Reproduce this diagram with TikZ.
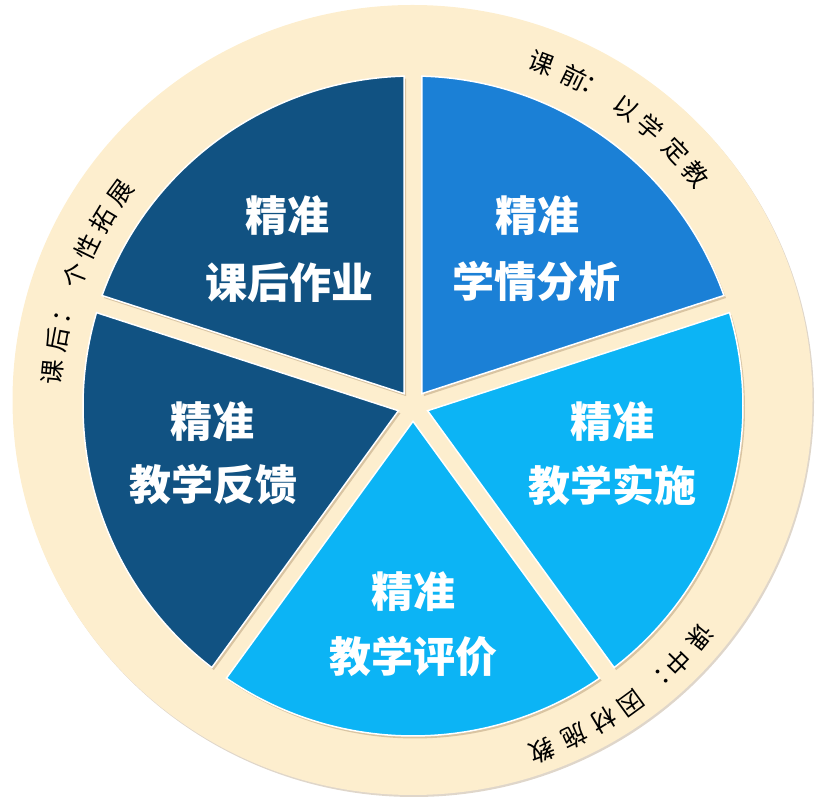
\documentclass[tikz,border=0pt]{standalone}
\usepackage{fontspec}
\newfontfamily\cjk{Noto Sans CJK SC}
\usetikzlibrary{shadows}
\definecolor{navy}{RGB}{17,82,130}
\definecolor{midblue}{RGB}{27,128,214}
\definecolor{cyanb}{RGB}{12,180,245}
\definecolor{beige}{RGB}{253,238,206}
\definecolor{shadowc}{RGB}{150,120,80}
\begin{document}
\begin{tikzpicture}[x=1pt,y=1pt,
  sector/.style={draw=white, line width=1.5pt,
    drop shadow={shadow xshift=2pt, shadow yshift=-2.5pt, opacity=0.35, fill=shadowc}},
  ring/.style={fill=beige,
    drop shadow={shadow xshift=1.5pt, shadow yshift=-2pt, opacity=0.3, fill=shadowc}},
  title/.style={text=white, font=\cjk\bfseries\fontsize{42}{42}\selectfont, inner sep=0pt},
  arcchar/.style={font=\cjk\fontsize{25}{25}\selectfont, inner sep=0pt, text=black}]
\useasboundingbox (0,0) rectangle (827,800);
\begin{scope}[shift={(413,394)}]
  \path[ring] (-0.5,6) ellipse [x radius=400, y radius=395];
  \foreach \a/\c in {90/navy, 162/navy, 234/cyanb, 306/cyanb, 18/midblue}{
    \path[sector, fill=\c] ({\a+36}:15.3) -- ({\a+1.56}:330)
      arc[start angle=\a+1.56, end angle=\a+70.44, radius=330] -- cycle;
  }
  \foreach \ch/\ang [count=\i] in {课/69.4, 前/64.0, ：/60.3, 以/54.4, 学/49.6, 定/44.1, 教/39.4}
    \node[arcchar, rotate=\ang-90] (top\i) at (\ang:366) {\ch};
  \foreach \ch/\ang [count=\i] in {课/174.6, 后/169.4, ：/164.8, 个/158.9, 性/153.9, 拓/149.1, 展/143.9}
    \node[arcchar, rotate=\ang-90] (left\i) at (\ang:362) {\ch};
  \foreach \ch/\ang [count=\i] in {课/-38.8, 中/-44.1, ：/-48.3, 因/-53.8, 材/-58.7, 施/-63.9, 教/-69.4}
    \node[arcchar, rotate=\ang-90] (bot\i) at (\ang:368) {\ch};
\end{scope}
\node[title] (ula) at (287,584) {精准};
\node[title] (ulb) at (289,517) {课后作业};
\node[title] (ura) at (537,584) {精准};
\node[title] (urb) at (536,519) {学情分析};
\node[title] (la) at (212,378) {精准};
\node[title] (lb) at (213,315) {教学反馈};
\node[title] (ra) at (612,378) {精准};
\node[title] (rb) at (612,315) {教学实施};
\node[title] (ba) at (413,208) {精准};
\node[title] (bb) at (413,143) {教学评价};
\end{tikzpicture}
\end{document}
